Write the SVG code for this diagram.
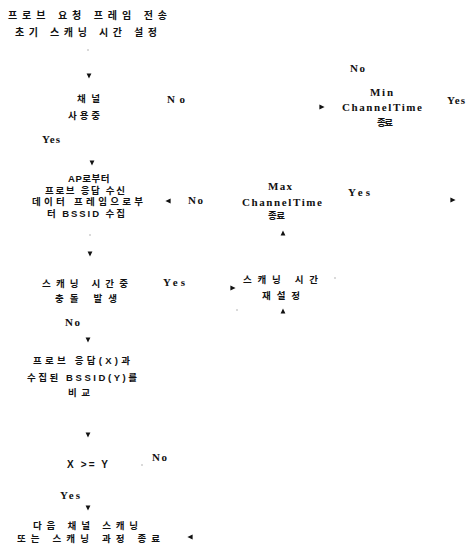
<svg xmlns="http://www.w3.org/2000/svg" xmlns:xlink="http://www.w3.org/1999/xlink" width="468" height="556" viewBox="0 0 468 556">
<style>
.ko{font-family:"Liberation Sans","Noto Sans CJK KR",sans-serif;font-size:9.5px;font-weight:700;fill:#111}
.big{font-size:10px}
.la{font-family:"Liberation Serif","Noto Sans CJK KR",serif;font-size:11px;font-weight:700;fill:#111}
.ah{fill:#111}
.dot{fill:#999}
</style>
<defs>
<path id="ah" class="ah" d="M-2.6,-2.4 L2.6,0 L-2.6,2.4 Z"/>
</defs>
<rect width="468" height="556" fill="#fff"/>
<g id="start">
<text class="ko big" x="8" y="19" textLength="159" lengthAdjust="spacing">프로브 요청 프레임 전송</text>
<text class="ko big" x="15" y="36" textLength="142" lengthAdjust="spacing">초기 스캐닝 시간 설정</text>
</g>
<g id="channel-busy">
<text class="ko" x="77" y="102" textLength="23" lengthAdjust="spacing">채널</text>
<text class="ko" x="68" y="119" textLength="32" lengthAdjust="spacing">사용중</text>
</g>
<g id="min-channel-time">
<text class="la" x="370" y="96" textLength="23" lengthAdjust="spacing">Min</text>
<text class="la" x="342" y="111" textLength="80" lengthAdjust="spacing">ChannelTime</text>
<text class="ko" x="377" y="126" textLength="16" lengthAdjust="spacing">종료</text>
</g>
<g id="collect-bssid">
<text class="ko" x="89" y="182" text-anchor="middle" letter-spacing="0.5">AP로부터</text>
<text class="ko" x="45" y="194" textLength="80" lengthAdjust="spacing">프로브 응답 수신</text>
<text class="ko" x="32" y="205" textLength="111" lengthAdjust="spacing">데이터 프레임으로부</text>
<text class="ko" x="47" y="217" textLength="78" lengthAdjust="spacing">터 BSSID 수집</text>
</g>
<g id="max-channel-time">
<text class="la" x="268" y="190" textLength="24" lengthAdjust="spacing">Max</text>
<text class="la" x="242" y="206" textLength="80" lengthAdjust="spacing">ChannelTime</text>
<text class="ko" x="268" y="219" textLength="17" lengthAdjust="spacing">종료</text>
</g>
<g id="collision">
<text class="ko" x="42" y="287" textLength="86" lengthAdjust="spacing">스캐닝 시간중</text>
<text class="ko" x="55" y="302" textLength="62" lengthAdjust="spacing">충돌 발생</text>
</g>
<g id="reset-time">
<text class="ko" x="243" y="283" textLength="75" lengthAdjust="spacing">스캐닝 시간</text>
<text class="ko" x="262" y="299" textLength="38" lengthAdjust="spacing">재설정</text>
</g>
<g id="compare">
<text class="ko" x="33" y="364" textLength="97" lengthAdjust="spacing">프로브 응답(X)과</text>
<text class="ko" x="27" y="381" textLength="110" lengthAdjust="spacing">수집된 BSSID(Y)를</text>
<text class="ko" x="68" y="396" textLength="22" lengthAdjust="spacing">비교</text>
</g>
<g id="x-ge-y">
<text class="la" x="67" y="468" textLength="41" lengthAdjust="spacing" style="font-family:'Liberation Sans',sans-serif;font-size:10px">X &gt;= Y</text>
</g>
<g id="next-channel">
<text class="ko" x="33" y="529" textLength="105" lengthAdjust="spacing">다음 채널 스캐닝</text>
<text class="ko" x="17" y="542" textLength="143" lengthAdjust="spacing">또는 스캐닝 과정 종료</text>
</g>
<g id="connectors">
<use xlink:href="#ah" transform="translate(89,76) rotate(90)"/>
<use xlink:href="#ah" transform="translate(92,163) rotate(90)"/>
<use xlink:href="#ah" transform="translate(90,254) rotate(90)"/>
<use xlink:href="#ah" transform="translate(88,340) rotate(90)"/>
<use xlink:href="#ah" transform="translate(88,435) rotate(90)"/>
<use xlink:href="#ah" transform="translate(88,508) rotate(90)"/>
<use xlink:href="#ah" transform="translate(322,107)"/>
<use xlink:href="#ah" transform="translate(453,200)"/>
<use xlink:href="#ah" transform="translate(233,288)"/>
<use xlink:href="#ah" transform="translate(168,201) rotate(180)"/>
<use xlink:href="#ah" transform="translate(190,537) rotate(180)"/>
<use xlink:href="#ah" transform="translate(283,233) rotate(-90)"/>
<use xlink:href="#ah" transform="translate(283,311) rotate(-90)"/>
<circle class="dot" cx="88" cy="50" r="0.7"/>
<circle class="dot" cx="90" cy="235" r="0.7"/>
<circle class="dot" cx="335" cy="278" r="0.7"/>
<circle class="dot" cx="237" cy="310" r="0.7"/>
<circle class="dot" cx="142" cy="465" r="0.7"/>
<text class="la" x="167" y="103" textLength="18" lengthAdjust="spacing">No</text>
<text class="la" x="350" y="72" textLength="15" lengthAdjust="spacing">No</text>
<text class="la" x="447" y="104" textLength="18" lengthAdjust="spacing">Yes</text>
<text class="la" x="42" y="143" textLength="18" lengthAdjust="spacing">Yes</text>
<text class="la" x="188" y="204" textLength="15" lengthAdjust="spacing">No</text>
<text class="la" x="348" y="196" textLength="22" lengthAdjust="spacing">Yes</text>
<text class="la" x="163" y="286" textLength="22" lengthAdjust="spacing">Yes</text>
<text class="la" x="65" y="326" textLength="15" lengthAdjust="spacing">No</text>
<text class="la" x="152" y="461" textLength="15" lengthAdjust="spacing">No</text>
<text class="la" x="60" y="499" textLength="20" lengthAdjust="spacing">Yes</text>
</g>
</svg>
